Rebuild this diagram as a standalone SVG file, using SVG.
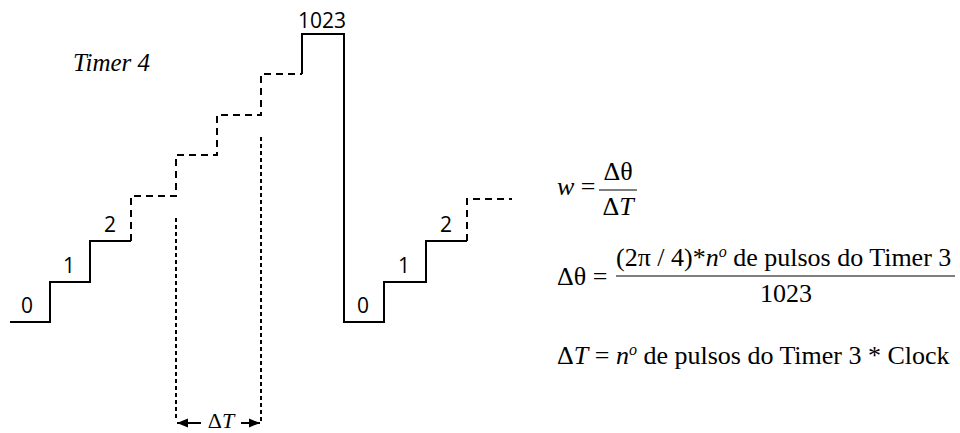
<svg xmlns="http://www.w3.org/2000/svg" width="960" height="433" viewBox="0 0 960 433">
<style>
.s{fill:none;stroke:#000;stroke-width:2;stroke-linejoin:miter}
.d{fill:none;stroke:#000;stroke-width:2;stroke-dasharray:7,5}
.p{fill:none;stroke:#000;stroke-width:2;stroke-dasharray:4,3}
.n{font-family:"Open Sans","DejaVu Sans",sans-serif;font-size:21px;fill:#000}
.m{font-family:"Liberation Serif","Times New Roman",serif;font-size:26px;fill:#000}
.i{font-style:italic}
</style>
<defs>
<marker id="ah" viewBox="0 0 10 10" refX="10" refY="5" markerWidth="11" markerHeight="11" markerUnits="userSpaceOnUse" orient="auto-start-reverse">
<path d="M0,1 L10,5 L0,9 Z" fill="#000"/>
</marker>
</defs>
<rect width="960" height="433" fill="#fff"/>
<g id="staircase1">
<path class="s" d="M10,322 H50 V282 H90 V241 H131"/>
<path class="d" d="M131,241 V196 H176 V155 H217 V115 H261 V74 H302"/>
<path class="s" d="M302,74 V34 H344 V322 H384 V282 H426 V241 H467"/>
<path class="d" d="M467,241 V199 H512"/>
</g>
<g id="connectors">
<path class="p" d="M176,218 V421"/>
<path class="p" d="M261,137 V421"/>
<path class="s" d="M201,423 H177" marker-end="url(#ah)"/>
<path class="s" d="M241,423 H260" marker-end="url(#ah)"/>
</g>
<g id="labels">
<text class="n" x="27" y="313" text-anchor="middle">0</text>
<text class="n" x="69" y="273" text-anchor="middle">1</text>
<text class="n" x="110" y="232" text-anchor="middle">2</text>
<text class="n" x="322" y="28" text-anchor="middle">1023</text>
<text class="n" x="363" y="313" text-anchor="middle">0</text>
<text class="n" x="404" y="273" text-anchor="middle">1</text>
<text class="n" x="446" y="232" text-anchor="middle">2</text>
<text class="m i" x="73" y="71" style="font-size:25px">Timer 4</text>
<text class="m" x="221" y="428" text-anchor="middle" style="font-size:22px">Δ<tspan class="i">T</tspan></text>
</g>
<g id="formula-w">
<text class="m" x="557" y="195"><tspan class="i">w</tspan> =</text>
<text class="m" x="618" y="180" text-anchor="middle">Δθ</text>
<line x1="599" y1="190" x2="637" y2="190" stroke="#000" stroke-width="1"/>
<text class="m" x="618" y="215" text-anchor="middle">Δ<tspan class="i">T</tspan></text>
</g>
<g id="formula-theta">
<text class="m" x="557" y="285">Δθ =</text>
<text class="m" x="616" y="266">(2π / 4)*<tspan class="i">n</tspan><tspan class="i" dy="-9" font-size="16">o</tspan><tspan dy="9">  de pulsos do Timer 3</tspan></text>
<line x1="616" y1="276" x2="955" y2="276" stroke="#000" stroke-width="1"/>
<text class="m" x="786" y="302" text-anchor="middle">1023</text>
</g>
<g id="formula-T">
<text class="m" x="557" y="364">Δ<tspan class="i">T</tspan> = <tspan class="i">n</tspan><tspan class="i" dy="-9" font-size="16">o</tspan><tspan dy="9">  de pulsos do Timer 3 * Clock</tspan></text>
</g>
</svg>
